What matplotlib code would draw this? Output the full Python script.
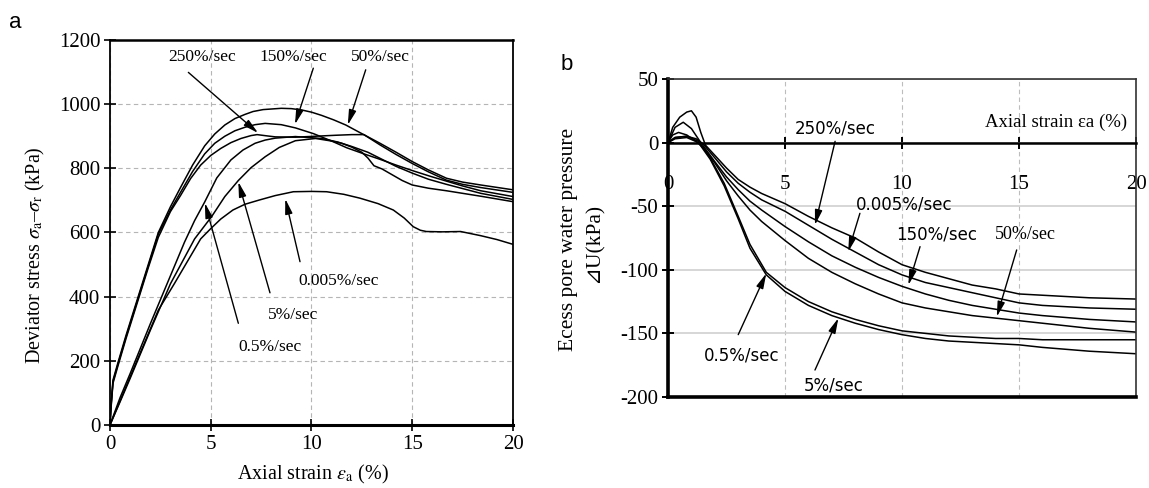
import matplotlib
matplotlib.use('Agg')
import matplotlib.pyplot as plt

plt.rcParams['font.family'] = ['Liberation Serif', 'DejaVu Sans']
plt.rcParams['mathtext.fontset'] = 'stix'
plt.rcParams['axes.unicode_minus'] = False

# ---------------- Panel a data: deviator stress vs axial strain ----------------
a_xticks = [0, 5, 10, 15, 20]
a_yticks = [0, 200, 400, 600, 800, 1000, 1200]

a50_x = [0, 0.05, 0.15, 0.4, 0.8, 1.4, 1.9, 2.4, 3.0, 3.5, 4.1, 4.7, 5.2, 5.7, 6.2, 6.7, 7.1, 7.6, 8.5, 9.0, 9.5, 10.0, 10.5, 11.1, 11.7, 12.5, 13.4, 14.2, 15.0, 15.8, 16.7, 17.5, 18.4, 20]
a50_y = [0, 60, 140, 195, 280, 400, 500, 600, 680, 740, 810, 870, 907, 935, 955, 968, 977, 983, 987, 986, 982, 975, 965, 951, 935, 908, 878, 850, 821, 795, 769, 757, 748, 733]

a150_x = [0, 0.05, 0.15, 0.4, 0.8, 1.4, 1.9, 2.4, 3.0, 3.5, 4.1, 4.7, 5.2, 5.7, 6.2, 6.7, 7.2, 7.7, 8.5, 9.2, 10.1, 11.0, 11.75, 12.6, 13.4, 14.2, 15.05, 15.9, 16.7, 17.5, 18.4, 20]
a150_y = [0, 55, 135, 190, 275, 395, 495, 595, 670, 725, 790, 845, 878, 900, 917, 928, 936, 940, 936, 926, 908, 885, 864, 845, 828, 810, 792, 775, 760, 745, 730, 712]

a250_x = [0, 0.05, 0.15, 0.4, 0.8, 1.4, 1.9, 2.4, 3.0, 3.5, 4.0, 4.5, 5.0, 5.5, 6.0, 6.5, 7.0, 7.3, 7.8, 8.2, 9.2, 10.2, 11.2, 12.0, 12.6, 13.4, 14.2, 15.0, 15.8, 16.7, 17.5, 18.4, 20]
a250_y = [0, 50, 130, 185, 270, 390, 490, 585, 665, 715, 768, 810, 840, 862, 880, 893, 902, 905, 901, 898, 897, 900, 903, 905, 905, 873, 843, 815, 789, 763, 750, 740, 725]

a05_x = [0, 0.5, 1.0, 2.0, 3.0, 3.7, 4.2, 4.7, 5.3, 6.0, 6.6, 7.2, 7.7, 8.2, 9.2, 10.5, 11.3, 12.0, 12.8, 13.5, 14.2, 15.0, 15.8, 16.7, 18.4, 20]
a05_y = [0, 85, 160, 315, 465, 570, 637, 695, 770, 826, 857, 878, 888, 894, 899, 893, 882, 868, 850, 828, 806, 785, 766, 750, 722, 703]

a5_x = [0, 0.5, 1.0, 2.0, 3.0, 4.2, 5.05, 5.7, 6.37, 7.0, 7.7, 8.4, 9.2, 10.2, 11.0, 11.5, 12.0, 12.5, 12.8, 13.1, 13.5, 14.0, 14.5, 15.0, 15.8, 16.7, 18.4, 20]
a5_y = [0, 72, 145, 295, 440, 580, 650, 712, 762, 802, 836, 865, 886, 893, 885, 878, 866, 850, 832, 808, 798, 780, 762, 748, 738, 730, 713, 696]

a0005_x = [0, 1.0, 2.4, 3.2, 4.5, 5.0, 5.5, 6.1, 6.7, 7.4, 8.2, 9.1, 10.0, 10.75, 11.6, 12.4, 13.3, 14.06, 14.6, 15.05, 15.4, 15.7, 16.5, 17.4, 18.4, 19.2, 20]
a0005_y = [0, 150, 358, 441, 580, 612, 642, 670, 688, 701, 715, 727, 728, 727, 719, 707, 690, 670, 645, 618, 607, 603, 602, 603, 590, 578, 563]

# labels: (text, text position, arrow start, arrow tip)
a_labels = ['250%/sec', '150%/sec', '50%/sec', '0.005%/sec', '5%/sec', '0.5%/sec']
a_label_xy = [(4.55, 1148), (9.08, 1148), (13.4, 1148), (11.33, 450), (9.1, 343), (7.94, 244)]
a_arrow_from = [(3.89, 1099), (10.09, 1112), (12.69, 1107), (9.43, 509), (7.94, 412), (6.37, 317)]
a_arrow_to = [(7.35, 910), (9.18, 937), (11.8, 935), (8.7, 705), (6.37, 758), (4.71, 692)]

# ---------------- Panel b data: excess pore water pressure ----------------
b_xticks = [0, 5, 10, 15, 20]
b_yticks = [-200, -150, -100, -50, 0, 50]

b250_x = [0, 0.2, 0.5, 0.8, 1.0, 1.2, 1.4, 1.6, 2.0, 2.5, 3.0, 3.5, 4.0, 5.0, 6.0, 7.0, 8.0, 9.0, 10.0, 11.0, 12.0, 13.0, 14.0, 15.0, 16.0, 18.0, 20.0]
b250_y = [0, 12, 20, 24, 25, 20, 8, -2, -10, -20, -29, -35, -40, -48, -58, -67, -75, -86, -96, -102, -107, -112, -115, -119, -120, -122, -123]

b0005_x = [0, 0.3, 0.8, 1.2, 1.5, 2.0, 2.5, 3.0, 3.5, 4.0, 5.0, 6.0, 7.0, 8.0, 9.0, 10.0, 11.0, 12.0, 13.0, 14.0, 15.0, 16.0, 18.0, 20.0]
b0005_y = [0, 4, 5, 3, -1, -12, -23, -32, -39, -45, -54, -65, -76, -86, -96, -104, -110, -114, -118, -122, -126, -128, -130, -131]

b150_x = [0, 0.3, 0.65, 1.0, 1.4, 2.0, 2.5, 3.0, 3.5, 4.0, 5.0, 6.0, 7.0, 8.0, 9.0, 10.0, 11.0, 12.0, 13.0, 14.0, 15.0, 16.0, 18.0, 20.0]
b150_y = [0, 12, 16, 11, 0, -15, -27, -37, -46, -53, -66, -78, -89, -98, -106, -113, -119, -124, -128, -131, -134, -136, -139, -141]

b50_x = [0, 0.2, 0.45, 0.8, 1.2, 1.5, 2.0, 2.5, 3.0, 3.5, 4.0, 5.0, 6.0, 7.0, 8.0, 9.0, 10.0, 11.0, 12.0, 13.0, 14.0, 15.0, 16.0, 18.0, 20.0]
b50_y = [0, 6, 8, 6, 1, -4, -16, -30, -42, -53, -62, -77, -91, -102, -111, -119, -126, -130, -133, -136, -138, -140, -142, -146, -149]

b05_x = [0, 0.3, 0.8, 1.3, 1.8, 2.4, 3.0, 3.5, 4.2, 5.0, 6.0, 7.0, 8.0, 9.0, 10.0, 11.0, 12.0, 13.0, 14.0, 15.0, 16.0, 18.0, 20.0]
b05_y = [0, 4, 5, 1, -12, -32, -58, -80, -102, -114, -125, -133, -139, -144, -148, -150, -152, -153, -154, -154, -155, -155, -155]

b5_x = [0, 0.3, 0.8, 1.3, 1.8, 2.4, 3.0, 3.5, 4.2, 5.0, 6.0, 7.0, 8.0, 9.0, 10.0, 11.0, 12.0, 13.0, 14.0, 15.0, 16.0, 18.0, 20.0]
b5_y = [0, 3, 4, 0, -13, -34, -60, -83, -104, -117, -128, -136, -142, -147, -151, -154, -156, -157, -158, -159, -161, -164, -166]

b_labels = ['250%/sec', '0.005%/sec', '150%/sec', '50%/sec', '0.5%/sec', '5%/sec']
b_label_xy = [(7.14, 11), (10.1, -49), (11.5, -72.6), (15.26, -72.6), (3.15, -167), (7.07, -190.6)]
b_arrow_from = [(7.14, 1), (8.2, -55.6), (10.77, -81.8), (14.9, -84.4), (3.0, -151), (6.28, -178.8)]
b_arrow_to = [(6.28, -64.8), (7.7, -85.8), (10.27, -112), (14.05, -136.9), (4.2, -102.8), (7.28, -138)]
b_label_serif = [False, False, False, True, False, False]

# ---------------- Figure ----------------
fig = plt.figure(figsize=(11.49, 4.88), dpi=100)
axa = fig.add_axes([0.0957, 0.1291, 0.3508, 0.789])
axb = fig.add_axes([0.5814, 0.1865, 0.4073, 0.6516])

arrow_kw = dict(arrowstyle='-|>,head_length=0.9,head_width=0.22', color='k', lw=1.0,
                shrinkA=0, shrinkB=0)

# Panel a
for xs, ys in [(a50_x, a50_y), (a150_x, a150_y), (a250_x, a250_y),
               (a05_x, a05_y), (a5_x, a5_y), (a0005_x, a0005_y)]:
    axa.plot(xs, ys, color='k', lw=1.1)
axa.set_xlim(0, 20)
axa.set_ylim(0, 1200)
axa.set_xticks(a_xticks)
axa.set_yticks(a_yticks)
axa.grid(True, ls=(0, (4, 3)), color='#b5b5b5', lw=0.8)
axa.set_axisbelow(True)
axa.tick_params(direction='inout', length=8, width=1.2, labelsize=15, pad=3)
for s in axa.spines.values():
    s.set_linewidth(1.3)
axa.spines['bottom'].set_linewidth(2.2)
axa.spines['top'].set_linewidth(1.8)
for t, p, f, to in zip(a_labels, a_label_xy, a_arrow_from, a_arrow_to):
    axa.text(p[0], p[1], t, ha='center', va='center', fontsize=12.5)
    axa.annotate('', xy=to, xytext=f, arrowprops=arrow_kw)

fig.text(313 / 1149, 1 - 474 / 488, r'Axial strain $\varepsilon_\mathrm{a}$ (%)',
         ha='center', va='center', fontsize=14.5)
fig.text(35 / 1149, 1 - 255 / 488, r'Deviator stress $\sigma_\mathrm{a}$–$\sigma_\mathrm{r}$ (kPa)',
         ha='center', va='center', rotation=90, fontsize=14.5)
fig.text(15 / 1149, 1 - 23 / 488, 'a', ha='center', va='center', fontsize=16,
         family='Liberation Sans')

# Panel b
for xs, ys in [(b250_x, b250_y), (b0005_x, b0005_y), (b150_x, b150_y),
               (b50_x, b50_y), (b05_x, b05_y), (b5_x, b5_y)]:
    axb.plot(xs, ys, color='k', lw=1.1)
axb.set_xlim(0, 20)
axb.set_ylim(-200, 50)
axb.set_xticks(b_xticks)
axb.set_yticks(b_yticks)
axb.grid(True, axis='y', ls='-', color='#cfcfcf', lw=1.2)
axb.grid(True, axis='x', ls=(0, (4, 3)), color='#bdbdbd', lw=0.8)
axb.set_axisbelow(True)
axb.spines['bottom'].set_position(('data', 0))
axb.spines['bottom'].set_linewidth(1.8)
axb.spines['left'].set_linewidth(2.6)
axb.spines['top'].set_linewidth(1.2)
axb.spines['right'].set_linewidth(1.2)
axb.spines['top'].set_color('#333333')
axb.spines['right'].set_color('#333333')
axb.axhline(-200, color='k', lw=2.6, clip_on=False, zorder=3)
axb.tick_params(axis='x', direction='inout', length=8, width=1.4, labelsize=15, pad=19)
axb.tick_params(axis='y', direction='inout', length=8, width=1.4, labelsize=15, pad=3)
for t, p, f, to, serif in zip(b_labels, b_label_xy, b_arrow_from, b_arrow_to, b_label_serif):
    fam = ['Liberation Serif'] if serif else ['DejaVu Sans']
    axb.text(p[0], p[1], t, ha='center', va='center', fontsize=13 if serif else 12,
             family=fam)
    axb.annotate('', xy=to, xytext=f, arrowprops=arrow_kw)
axb.text(19.6, 16, 'Axial strain εa (%)', ha='right', va='center', fontsize=13.5)

fig.text(568 / 1149, 1 - 239 / 488, 'Ecess pore water pressure', ha='center', va='center',
         rotation=90, fontsize=15.5)
fig.text(594 / 1149, 1 - 243 / 488, '⊿U(kPa)', ha='center', va='center',
         rotation=90, fontsize=15.5, family=['Liberation Serif', 'DejaVu Sans'])
fig.text(567 / 1149, 1 - 65 / 488, 'b', ha='center', va='center', fontsize=16,
         family='Liberation Sans')

fig.savefig('out.png', dpi=100, facecolor='white')
